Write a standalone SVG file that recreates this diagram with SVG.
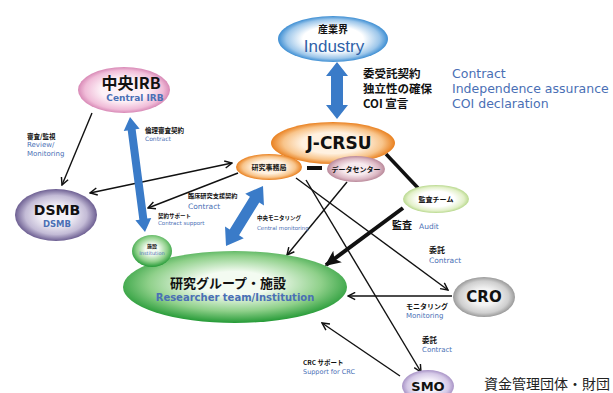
<svg xmlns="http://www.w3.org/2000/svg" width="613" height="393" viewBox="0 0 613 393">
<defs>
<style>
.jp{font-family:"Noto Sans CJK JP",sans-serif;font-weight:bold;fill:#111;}
.en{font-family:"DejaVu Sans",sans-serif;fill:#4a6fb5;}
.ttl{font-family:"DejaVu Sans",sans-serif;font-weight:bold;fill:#111;}
.ln{stroke:#111;stroke-width:1.4;fill:none;}
.ba{fill:#3a7bc8;}
</style>
<radialGradient id="gBlue" cx="50%" cy="50%" r="50%"><stop offset="0.55" stop-color="#ffffff"/><stop offset="0.85" stop-color="#9cc6ea"/><stop offset="1" stop-color="#3d8ed3"/></radialGradient>
<radialGradient id="gPink" cx="50%" cy="50%" r="50%"><stop offset="0.5" stop-color="#fdf1f7"/><stop offset="0.85" stop-color="#f0bcd8"/><stop offset="1" stop-color="#d889b6"/></radialGradient>
<radialGradient id="gOrange" cx="50%" cy="50%" r="50%"><stop offset="0.5" stop-color="#fff1e0"/><stop offset="0.8" stop-color="#f8c48a"/><stop offset="1" stop-color="#e9801f"/></radialGradient>
<radialGradient id="gMauve" cx="50%" cy="50%" r="50%"><stop offset="0.45" stop-color="#f7eaee"/><stop offset="0.8" stop-color="#dcb8c4"/><stop offset="1" stop-color="#b9899a"/></radialGradient>
<radialGradient id="gPurple" cx="50%" cy="50%" r="50%"><stop offset="0.35" stop-color="#f4f2f8"/><stop offset="0.75" stop-color="#c3bbd6"/><stop offset="1" stop-color="#6d5f92"/></radialGradient>
<radialGradient id="gLGreen" cx="50%" cy="50%" r="50%"><stop offset="0.55" stop-color="#ffffff"/><stop offset="0.85" stop-color="#e2f0c8"/><stop offset="1" stop-color="#b9d98f"/></radialGradient>
<radialGradient id="gGreen" cx="50%" cy="45%" r="55%"><stop offset="0.3" stop-color="#f3fbf1"/><stop offset="0.7" stop-color="#8fd08a"/><stop offset="1" stop-color="#249a36"/></radialGradient>
<radialGradient id="gGray" cx="50%" cy="50%" r="50%"><stop offset="0.4" stop-color="#f4f4f4"/><stop offset="0.8" stop-color="#cfcfcf"/><stop offset="1" stop-color="#9a9a9a"/></radialGradient>
<radialGradient id="gLav" cx="50%" cy="50%" r="50%"><stop offset="0.4" stop-color="#f5f1fa"/><stop offset="0.8" stop-color="#d4c8e6"/><stop offset="1" stop-color="#a893c6"/></radialGradient>
<marker id="ah" viewBox="0 0 10 10" refX="9" refY="5" markerWidth="9" markerHeight="9" markerUnits="userSpaceOnUse" orient="auto-start-reverse"><path d="M1,1 L9,5 L1,9" fill="none" stroke="#111" stroke-width="1.6"/></marker>
<marker id="ahBig" viewBox="0 0 10 10" refX="9" refY="5" markerWidth="16" markerHeight="16" markerUnits="userSpaceOnUse" orient="auto"><path d="M0,0.5 L10,5 L0,9.5 L2.5,5 z" fill="#111"/></marker>
</defs>

<g id="connectors">
<line class="ln" x1="92" y1="113" x2="62" y2="185" marker-end="url(#ah)"/>
<line class="ln" x1="90" y1="193" x2="232" y2="163" marker-start="url(#ah)" marker-end="url(#ah)"/>
<line class="ln" x1="238" y1="173" x2="148" y2="208" marker-end="url(#ah)"/>
<line x1="307" y1="168" x2="322" y2="168" stroke="#111" stroke-width="4"/>
<line x1="386" y1="154" x2="418" y2="188" stroke="#111" stroke-width="3.5"/>
<line class="ln" x1="296" y1="178" x2="448" y2="290" marker-end="url(#ah)"/>
<line class="ln" x1="306" y1="180" x2="421" y2="372" marker-end="url(#ah)"/>
<line class="ln" x1="347" y1="182" x2="287" y2="255" marker-end="url(#ah)"/>
<line x1="403" y1="208" x2="326" y2="265" stroke="#111" stroke-width="4" marker-end="url(#ahBig)"/>
<line class="ln" x1="452" y1="296" x2="348" y2="296" marker-end="url(#ah)"/>
<line class="ln" x1="400" y1="376" x2="322" y2="323" marker-end="url(#ah)"/>
<polygon class="ba" transform="translate(337,62) rotate(90)" points="0,0 14,-11 14,-6 43,-6 43,-11 57,0 43,11 43,6 14,6 14,11"/>
<polygon class="ba" transform="translate(130,117) rotate(82.57)" points="0,0 13,-8 13,-4 103,-4 103,-8 116,0 103,8 103,4 13,4 13,8"/>
<polygon class="ba" transform="translate(263,186) rotate(121.66)" points="0,0 16,-11 16,-5.5 54.5,-5.5 54.5,-11 70.5,0 54.5,11 54.5,5.5 16,5.5 16,11"/>
</g>

<g id="industry">
<ellipse cx="333" cy="39" rx="55" ry="23" fill="url(#gBlue)"/>
<text class="jp" x="333" y="33" font-size="10" text-anchor="middle">産業界</text>
<text x="334" y="52" font-family="Liberation Sans,sans-serif" font-size="17" fill="#2f62a8" text-anchor="middle">Industry</text>
</g>

<g id="legend">
<text class="jp" x="363" y="78" font-size="11.5">委受託契約</text>
<text class="jp" x="363" y="93" font-size="11.5">独立性の確保</text>
<text class="jp" x="363" y="108" font-size="11.5">COI 宣言</text>
<text class="en" x="452" y="78" font-size="12.5">Contract</text>
<text class="en" x="452" y="93" font-size="12.5">Independence assurance</text>
<text class="en" x="452" y="108" font-size="12.5">COI declaration</text>
</g>

<g id="irb">
<ellipse cx="124" cy="90" rx="46" ry="23" fill="url(#gPink)"/>
<text class="jp" x="131" y="89" font-size="16" text-anchor="middle">中央IRB</text>
<text class="en" x="135" y="101" font-size="9" font-weight="bold" text-anchor="middle">Central IRB</text>
</g>

<g id="jcrsu">
<ellipse cx="333" cy="143" rx="62" ry="21" fill="url(#gOrange)"/>
<text class="ttl" x="339" y="149" font-size="17" text-anchor="middle">J-CRSU</text>
</g>

<g id="office">
<ellipse cx="269" cy="167" rx="33" ry="13" fill="url(#gOrange)"/>
<text class="jp" x="269" y="170" font-size="7" text-anchor="middle">研究事務局</text>
</g>

<g id="datacenter">
<ellipse cx="356" cy="169" rx="29" ry="13" fill="url(#gMauve)"/>
<text class="jp" x="356" y="172" font-size="7" text-anchor="middle">データセンター</text>
</g>

<g id="audit-team">
<ellipse cx="436" cy="199" rx="33" ry="14" fill="url(#gLGreen)"/>
<text class="jp" x="436" y="202" font-size="7" text-anchor="middle">監査チーム</text>
</g>

<g id="dsmb">
<ellipse cx="56" cy="215" rx="41" ry="26" fill="url(#gPurple)"/>
<text class="ttl" x="57" y="215" font-size="14" text-anchor="middle">DSMB</text>
<text class="en" x="57" y="227" font-size="8.5" font-weight="bold" text-anchor="middle">DSMB</text>
</g>

<g id="research-group">
<ellipse cx="235" cy="287" rx="112" ry="36" fill="url(#gGreen)"/>
<text class="jp" x="228" y="288" font-size="13" text-anchor="middle">研究グループ・施設</text>
<text class="en" x="235" y="301" font-size="10" font-weight="bold" text-anchor="middle">Researcher team/Institution</text>
</g>

<g id="institution">
<ellipse cx="152" cy="251" rx="20" ry="16" fill="url(#gGreen)"/>
<text class="jp" x="152" y="248" font-size="5" text-anchor="middle">施設</text>
<text class="en" x="152" y="255" font-size="5" text-anchor="middle">Institution</text>
</g>

<g id="cro">
<ellipse cx="484" cy="297" rx="31" ry="20" fill="url(#gGray)"/>
<text class="ttl" x="484" y="302" font-size="15" text-anchor="middle">CRO</text>
</g>

<g id="smo">
<ellipse cx="428" cy="386" rx="26" ry="16" fill="url(#gLav)"/>
<text class="ttl" x="428" y="391" font-size="13" text-anchor="middle">SMO</text>
</g>

<g id="labels">
<text class="jp" x="27" y="139" font-size="6.5">審査/監視</text>
<text class="en" x="27" y="147" font-size="7">Review/</text>
<text class="en" x="27" y="156" font-size="7">Monitoring</text>
<text class="jp" x="145" y="133" font-size="6.5">倫理審査契約</text>
<text class="en" x="145" y="141" font-size="6">Contract</text>
<text class="jp" x="188" y="198" font-size="6.2">臨床研究支援契約</text>
<text class="en" x="188" y="209" font-size="7.5">Contract</text>
<text class="jp" x="158" y="218" font-size="5.5">契約サポート</text>
<text class="en" x="158" y="225" font-size="5.5">Contract support</text>
<text class="jp" x="257" y="220" font-size="5.5">中央モニタリング</text>
<text class="en" x="257" y="230" font-size="5.5">Central monitoring</text>
<text class="jp" x="392" y="229" font-size="10">監査</text>
<text class="en" x="419" y="229" font-size="7.5">Audit</text>
<text class="jp" x="429" y="253" font-size="8">委託</text>
<text class="en" x="429" y="263" font-size="7.5">Contract</text>
<text class="jp" x="406" y="309" font-size="7">モニタリング</text>
<text class="en" x="406" y="318" font-size="7">Monitoring</text>
<text class="jp" x="422" y="343" font-size="7.5">委託</text>
<text class="en" x="422" y="352" font-size="7">Contract</text>
<text class="jp" x="303" y="365" font-size="6.5">CRC サポート</text>
<text class="en" x="303" y="374" font-size="6.5">Support for CRC</text>
<text x="484" y="389" font-family="Noto Sans CJK JP,sans-serif" font-size="14" fill="#222">資金管理団体・財団</text>
</g>
</svg>
